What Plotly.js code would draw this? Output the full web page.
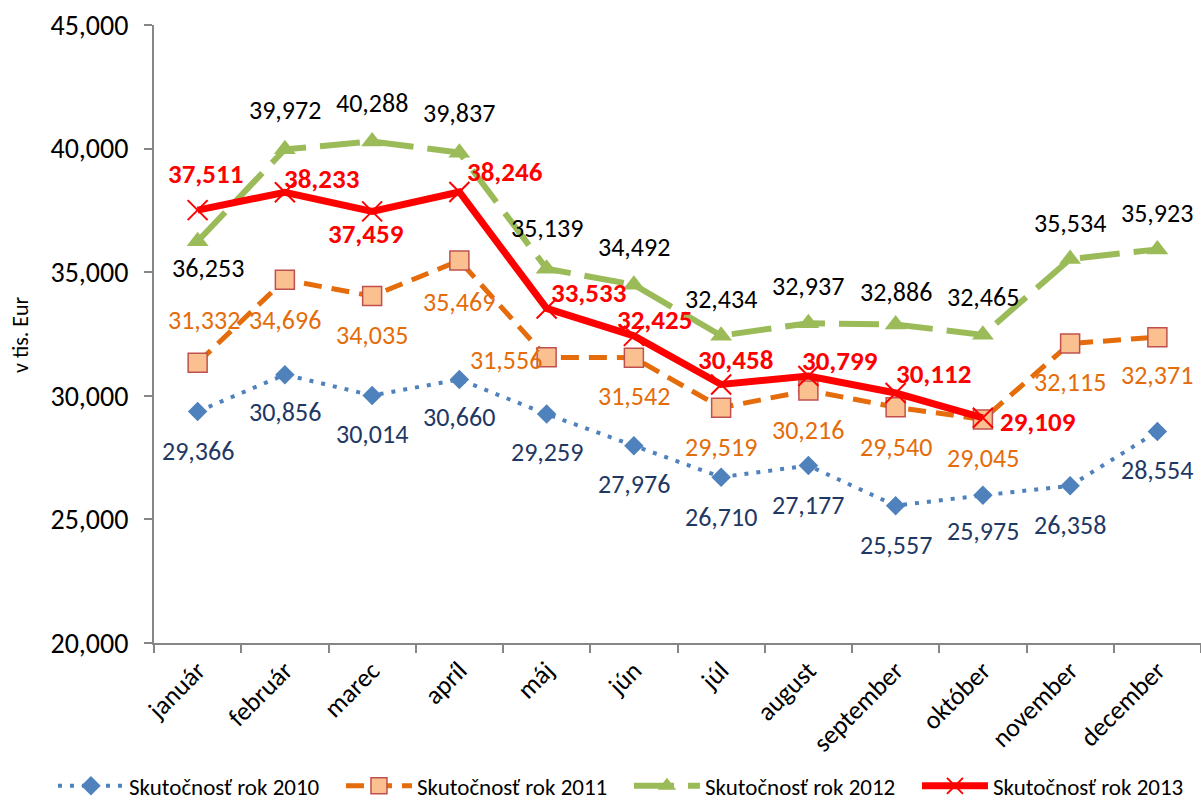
<!DOCTYPE html>
<html>
<head>
<meta charset="utf-8">
<script src="https://cdn.plot.ly/plotly-3.0.1.min.js"></script>
<style>html,body{margin:0;padding:0;background:#fff;}#chart{width:1201px;height:803px;}</style>
</head>
<body>
<div id="chart"></div>
<script>
const months = ["január","február","marec","apríl","máj","jún","júl","august","september","október","november","december"];
const series2010 = [29366,30856,30014,30660,29259,27976,26710,27177,25557,25975,26358,28554];
const series2011 = [31332,34696,34035,35469,31556,31542,29519,30216,29540,29045,32115,32371];
const series2012 = [36253,39972,40288,39837,35139,34492,32434,32937,32886,32465,35534,35923];
const series2013 = [37511,38233,37459,38246,33533,32425,30458,30799,30112,29109,null,null];
const names = ["Skutočnosť rok 2010","Skutočnosť rok 2011","Skutočnosť rok 2012","Skutočnosť rok 2013"];

// label placement offsets in pixels [dx, dy] (dy positive = down), per point
const off2010 = [[0,40],[0,37],[0,39],[0,38],[0,38],[0,38],[0,40],[0,39],[0,39],[0,36],[0,39],[0,38]];
const off2011 = [[6,-43],[0,40],[0,39],[0,41],[-41,3],[0,38],[0,39],[0,40],[0,40],[0,39],[0,38],[0,38]];
const off2012 = [[10,27],[0,-39],[0,-38],[0,-40],[0,-41],[0,-38],[0,-37],[0,-37],[0,-32],[0,-38],[0,-36],[0,-36]];
const off2013 = [[8,-37],[37,-14],[-6,22],[46,-20],[42,-16],[21,-16],[14,-25],[32,-16],[38,-20],[55,4],[0,0],[0,0]];

const FONT = "Carlito, Lato, 'Liberation Sans', sans-serif";
const fmt = v => v.toLocaleString('en-US');

const traces = [
  {x: months, y: series2010, name: names[0], type: 'scatter', mode: 'lines+markers',
   line: {color: '#4F81BD', width: 4, dash: '4px,8px'},
   marker: {symbol: 'diamond', size: 15, color: '#4F81BD'}},
  {x: months, y: series2011, name: names[1], type: 'scatter', mode: 'lines+markers',
   line: {color: '#E46C0A', width: 5, dash: '18px,10px'},
   marker: {symbol: 'square', size: 19, color: '#FAC090', line: {color: '#C0504D', width: 1.5}}},
  {x: months, y: series2012, name: names[2], type: 'scatter', mode: 'lines+markers',
   line: {color: '#9BBB59', width: 6, dash: '40px,14px'},
   marker: {symbol: 'triangle-up', size: 19, color: '#9BBB59'}},
  {x: months, y: series2013, name: names[3], type: 'scatter', mode: 'lines+markers',
   line: {color: '#FF0000', width: 7},
   marker: {symbol: 'x-thin', size: 20, color: '#FF0000', line: {color: '#FF0000', width: 2}}}
];

const annotations = [];
function addLabels(vals, offs, color, bold) {
  vals.forEach((v, i) => {
    if (v === null) return;
    annotations.push({
      x: months[i], y: v, xref: 'x', yref: 'y', showarrow: false,
      text: bold ? '<b>' + fmt(v) + '</b>' : fmt(v),
      xshift: offs[i][0], yshift: -offs[i][1],
      font: {family: FONT, size: bold ? 27 : 26, color: color}
    });
  });
}
addLabels(series2010, off2010, '#1F3864', false);
addLabels(series2011, off2011, '#E46C0A', false);
addLabels(series2012, off2012, '#000000', false);
addLabels(series2013, off2013, '#FF0000', true);

annotations.push({
  text: 'v tis. Eur', xref: 'paper', yref: 'paper', x: -0.128, xanchor: 'center', y: 0.5, yanchor: 'middle',
  textangle: -90, showarrow: false, font: {family: FONT, size: 22, color: '#000'}
});

const layout = {
  width: 1201, height: 803,
  margin: {l: 154, r: 0, t: 25, b: 160, autoexpand: false},
  paper_bgcolor: '#fff', plot_bgcolor: '#fff',
  font: {family: FONT, size: 22, color: '#000'},
  showlegend: true,
  legend: {orientation: 'h', xref: 'paper', yref: 'paper', x: -0.0965, xanchor: 'left', y: -0.266, yanchor: 'bottom',
           font: {family: FONT, size: 23, color: '#000'}, itemwidth: 66, traceorder: 'normal',
           entrywidth: 207, entrywidthmode: 'pixels', tracegroupgap: 0},
  xaxis: {type: 'category', range: [-0.5, 11.5], showgrid: false, zeroline: false,
          showline: true, linecolor: '#868686', linewidth: 2,
          ticks: 'outside', tickson: 'boundaries', ticklen: 8, tickcolor: '#868686', tickwidth: 2,
          tickangle: -45, tickfont: {family: FONT, size: 26, color: '#000'}},
  yaxis: {range: [20000, 45000], dtick: 5000, tickformat: ',d', showgrid: false, zeroline: false,
          showline: true, linecolor: '#868686', linewidth: 2,
          ticks: 'outside', ticklen: 8, tickcolor: '#868686', tickwidth: 2, ticklabelstandoff: 10,
          tickfont: {family: FONT, size: 28, color: '#000'}},
  annotations: annotations
};

Plotly.newPlot('chart', traces, layout, {displayModeBar: false, staticPlot: true});
</script>
</body>
</html>
